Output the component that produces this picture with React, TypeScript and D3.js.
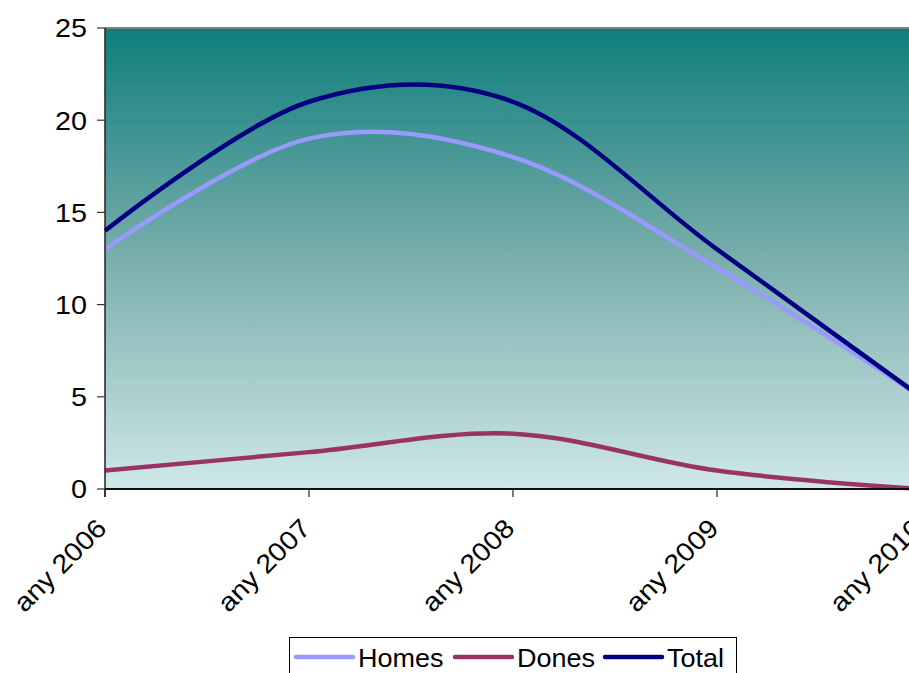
import React from "react";
import * as d3 from "d3";

const categories = ["any 2006", "any 2007", "any 2008", "any 2009", "any 2010"];
const homes = [13, 19, 18, 12, 5];
const dones = [1, 2, 3, 1, 0];
const total = [14, 21, 21, 13, 5];
const yTicks = [0, 5, 10, 15, 20, 25];

const seriesNames = ["Homes", "Dones", "Total"];
const seriesColors = ["#9999ff", "#993366", "#000080"];

const W = 909;
const H = 673;
const left = 105;
const right = 921;
const top = 28;
const bottom = 489;

export default function App() {
  const x = d3.scalePoint<string>().domain(categories).range([left, right]);
  const y = d3.scaleLinear().domain([0, 25]).range([bottom, top]);
  const line = d3
    .line<number>()
    .x((_, i) => x(categories[i]) as number)
    .y((d) => y(d))
    .curve(d3.curveCardinal.tension(0));
  const series = [homes, dones, total];
  const font = "'Liberation Sans', Arial, sans-serif";
  const legendX = [296, 455, 605];
  const fs = 25;

  return (
    <svg
      width={W}
      height={H}
      style={{ position: "absolute", left: 0, top: 0, background: "#fff" }}
      fontFamily={font}
    >
      <defs>
        <linearGradient id="bg" x1="0" y1="0" x2="0" y2="1">
          <stop offset="0%" stopColor="#0e7e7b" />
          <stop offset="50%" stopColor="#79aeac" />
          <stop offset="100%" stopColor="#cfe8e8" />
        </linearGradient>
      </defs>
      <rect x={left} y={top} width={right - left} height={bottom - top} fill="url(#bg)" />
      <line x1={left} x2={right} y1={top} y2={top} stroke="#808080" strokeWidth={2} />
      {series.map((s, k) => (
        <path key={k} d={line(s) || ""} fill="none" stroke={seriesColors[k]} strokeWidth={4.5} />
      ))}
      {/* y axis */}
      <line x1={left} x2={left} y1={top} y2={bottom + 8} stroke="#222" strokeWidth={1.5} />
      {yTicks.map((t) => (
        <g key={t}>
          <line x1={left - 8} x2={left} y1={y(t)} y2={y(t)} stroke="#333" strokeWidth={1.2} />
          <text
            transform={`translate(${left - 18},${y(t)}) scale(1.15,1.05)`}
            dy="0.36em"
            textAnchor="end"
            fontSize={fs}
            fill="#000"
          >
            {t}
          </text>
        </g>
      ))}
      {/* x axis */}
      <line x1={left} x2={right} y1={bottom} y2={bottom} stroke="#111" strokeWidth={2} />
      {categories.map((c) => (
        <g key={c}>
          <line x1={x(c)} x2={x(c)} y1={bottom} y2={bottom + 8} stroke="#222" strokeWidth={1.2} />
          <text
            transform={`translate(${(x(c) as number) - 10},${bottom + 28}) rotate(-45) scale(1.15,1.05)`}
            textAnchor="end"
            dy="0.7em"
            fontSize={fs}
            fill="#000"
          >
            {c}
          </text>
        </g>
      ))}
      {/* legend */}
      <rect x={289.5} y={637.5} width={447} height={50} fill="#fff" stroke="#000" strokeWidth={1} />
      {seriesNames.map((n, k) => (
        <g key={n}>
          <line
            x1={legendX[k]}
            x2={legendX[k] + 57}
            y1={657}
            y2={657}
            stroke={seriesColors[k]}
            strokeWidth={4.5}
            strokeLinecap="round"
          />
          <text
            transform={`translate(${legendX[k] + 62},${658}) scale(1.08,1.03)`}
            dy="0.36em"
            fontSize={fs}
            fill="#000"
          >
            {n}
          </text>
        </g>
      ))}
    </svg>
  );
}
